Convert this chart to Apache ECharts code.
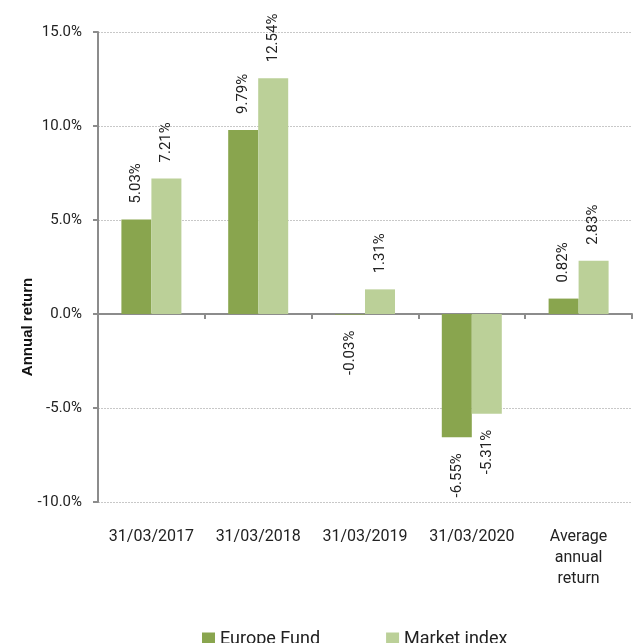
<!DOCTYPE html>
<html>
<head>
<meta charset="utf-8">
<script src="https://cdn.jsdelivr.net/npm/echarts@6/dist/echarts.min.js"></script>
<style>
html,body{margin:0;padding:0;background:#fff;}
#chart{width:636px;height:643px;}
</style>
</head>
<body>
<div id="chart"></div>
<script>
var categories = ['31/03/2017', '31/03/2018', '31/03/2019', '31/03/2020', 'Average\nannual\nreturn'];
var europeFund = [5.03, 9.79, -0.03, -6.55, 0.82];
var marketIndex = [7.21, 12.54, 1.31, -5.31, 2.83];
var yTicks = { min: -10, max: 15, interval: 5 };
var seriesNames = ['Europe Fund', 'Market index'];
var colors = ['#89A54E', '#BBD098'];

var FONT = 'Roboto, "Noto Sans", sans-serif';

function toItems(arr) {
  return arr.map(function (v) {
    var neg = v < 0;
    return {
      value: v,
      label: {
        position: neg ? 'bottom' : 'top',
        align: neg ? 'right' : 'left'
      }
    };
  });
}

function mkSeries(name, data, color) {
  return {
    name: name,
    type: 'bar',
    xAxisIndex: 0,
    barWidth: 30,
    barGap: '0%',
    itemStyle: { color: color },
    data: toItems(data),
    label: {
      show: true,
      rotate: 90,
      distance: 16,
      verticalAlign: 'middle',
      color: '#222',
      fontSize: 15,
      fontFamily: FONT,
      formatter: function (p) { return p.value.toFixed(2) + '%'; }
    }
  };
}

var chart = echarts.init(document.getElementById('chart'));
chart.setOption({
  animation: false,
  backgroundColor: '#fff',
  grid: { left: 98, right: 4, top: 32, bottom: 141, containLabel: false },
  legend: {
    data: seriesNames,
    left: 197,
    top: 625,
    itemWidth: 13,
    itemHeight: 13,
    itemGap: 66,
    icon: 'rect',
    textStyle: { fontSize: 18, color: '#222', fontFamily: FONT }
  },
  graphic: [{
    type: 'text',
    x: 28,
    y: 327,
    rotation: Math.PI / 2,
    style: {
      text: 'Annual return',
      fill: '#111',
      font: 'bold 15px "Liberation Sans", Arial, sans-serif',
      align: 'center',
      verticalAlign: 'middle'
    }
  }],
  xAxis: [{
    type: 'category',
    data: categories,
    axisLine: { onZero: true, lineStyle: { color: '#8c8c8c', width: 2 } },
    axisTick: { show: true, length: 5, lineStyle: { color: '#8c8c8c', width: 2 } },
    axisLabel: { show: false },
    splitLine: { show: false }
  }, {
    type: 'category',
    data: categories,
    position: 'bottom',
    axisLine: { show: false, onZero: false },
    axisTick: { show: false },
    axisLabel: {
      show: true,
      margin: 24,
      fontSize: 16,
      lineHeight: 21,
      color: '#222',
      fontFamily: FONT,
      interval: 0
    }
  }],
  yAxis: {
    type: 'value',
    min: yTicks.min,
    max: yTicks.max,
    interval: yTicks.interval,
    axisLine: { show: true, lineStyle: { color: '#8c8c8c', width: 2 } },
    axisTick: { show: true, length: 5, lineStyle: { color: '#8c8c8c', width: 2 } },
    axisLabel: {
      margin: 16,
      fontSize: 15,
      color: '#222',
      fontFamily: FONT,
      formatter: function (v) { return v.toFixed(1) + '%'; }
    },
    splitLine: { show: true, lineStyle: { color: '#c8c8c8', type: [2, 1], width: 1 } }
  },
  series: [
    mkSeries(seriesNames[0], europeFund, colors[0]),
    mkSeries(seriesNames[1], marketIndex, colors[1])
  ]
});
</script>
</body>
</html>
